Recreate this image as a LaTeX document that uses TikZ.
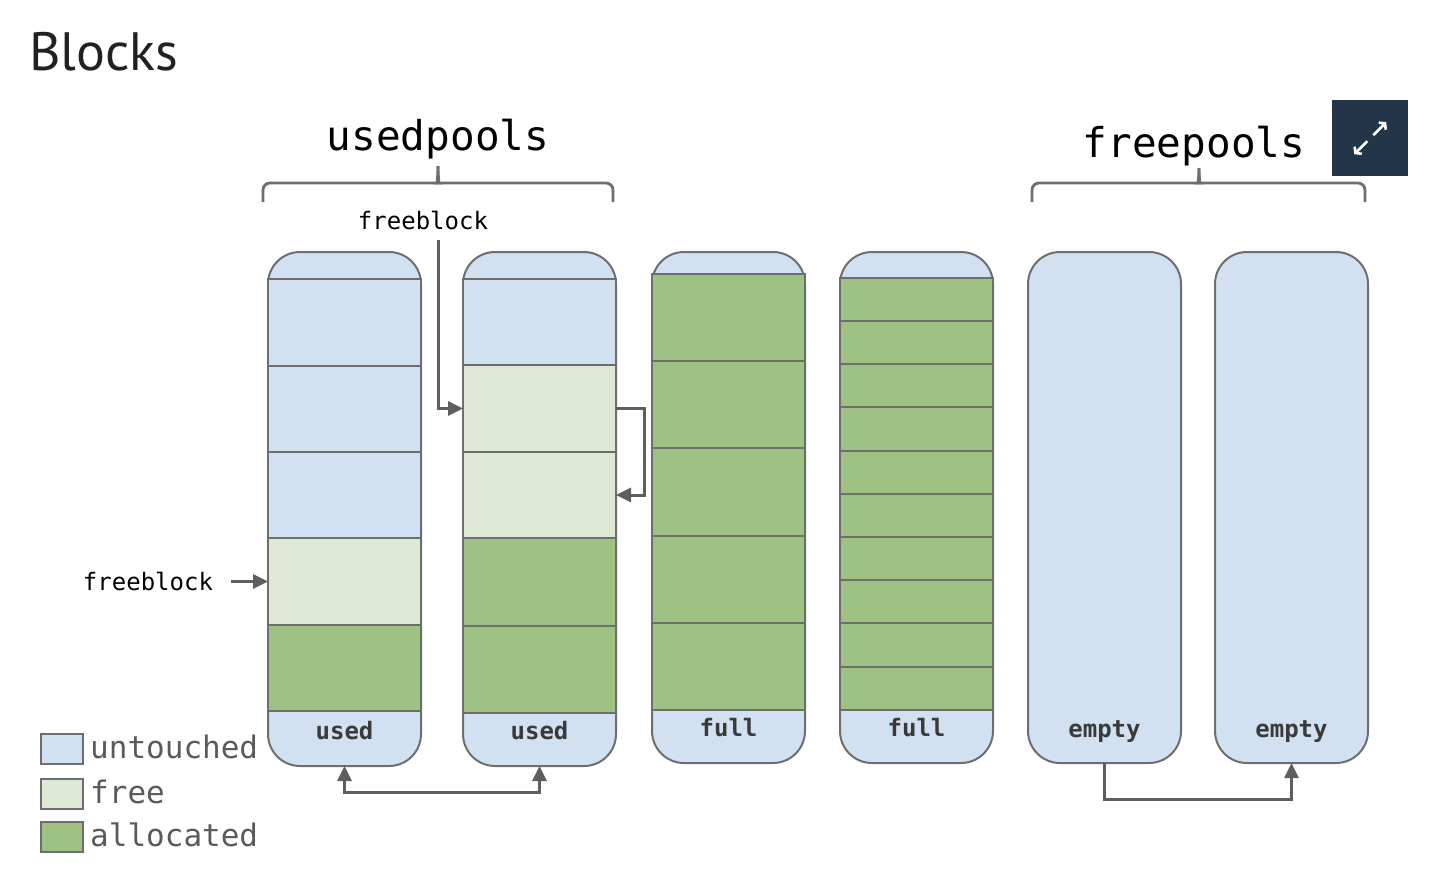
\documentclass[tikz,border=0pt]{standalone}
\usepackage{fontspec}
\setmonofont{DejaVu Sans Mono}
\newfontfamily\titlefont{PT Sans}
\usetikzlibrary{arrows.meta}
\definecolor{untouched}{HTML}{D2E1F1}
\definecolor{freec}{HTML}{DDE8D5}
\definecolor{alloc}{HTML}{9DC284}
\definecolor{edge}{HTML}{6E6E6E}
\definecolor{arrowc}{HTML}{5E5E5E}
\definecolor{labelc}{HTML}{3A3A3A}
\definecolor{legc}{HTML}{5A5A5A}
\definecolor{iconc}{HTML}{223549}
\newcommand\cellnode[5]{\node[cell, fill=#5, minimum height={(#4)-(#3)}] (#1) at ({#2},{#3}) {};}
\begin{document}
\begin{tikzpicture}[x=1pt,y=-1pt,
  pool/.style={draw=edge, line width=2pt, fill=untouched, rounded corners=32pt, minimum width=153pt, inner sep=0pt, outer sep=0pt, anchor=north west},
  cell/.style={draw=edge, line width=2pt, minimum width=153pt, inner sep=0pt, outer sep=0pt, anchor=north west},
  lbl/.style={font=\fontsize{24}{28}\selectfont\ttfamily\bfseries, text=labelc, anchor=base, inner sep=0pt},
  fbl/.style={font=\fontsize{24}{28}\selectfont\ttfamily, text=black, anchor=base, inner sep=0pt},
  head/.style={font=\fontsize{41}{48}\selectfont\ttfamily, text=black, anchor=base, inner sep=0pt},
  legbox/.style={draw=edge, line width=1.8pt, minimum width=42pt, minimum height=30pt, inner sep=0pt, anchor=north west},
  legtxt/.style={font=\fontsize{31}{36}\selectfont\ttfamily, text=legc, anchor=base west, inner sep=0pt},
  brace/.style={draw=edge, line width=2.8pt},
  tip/.tip={Triangle[length=15pt,width=14pt]},
  arr/.style={draw=arrowc, line width=3pt, -tip},
  arrboth/.style={draw=arrowc, line width=3pt, tip-tip}
]
\useasboundingbox (0,0) rectangle (1442,884);

% title
\node[font=\titlefont\fontsize{54}{60}\selectfont, text=black!87, anchor=base west, inner sep=0pt] (title) at (29,70) {Blocks};

% expand icon
\node[fill=iconc, minimum size=76pt, inner sep=0pt, anchor=north west] (icon) at (1332,100) {};
\draw[white, line width=2.6pt, -{Straight Barb[length=4pt,width=10pt]}] ([shift={(3,-3)}]icon.center) -- ([shift={(16,-16)}]icon.center);
\draw[white, line width=2.6pt, -{Straight Barb[length=4pt,width=10pt]}] ([shift={(-3,3)}]icon.center) -- ([shift={(-16,16)}]icon.center);

% headings
\node[head] (usedpools) at (438,150) {usedpools};
\node[head] (freepools) at (1194,157) {freepools};

% braces
\draw[brace] (263,202) [rounded corners=7pt] -- (263,183) -- (431,183) [sharp corners] .. controls (436,183) and (438,181) .. (438,166);
\draw[brace] (613,202) [rounded corners=7pt] -- (613,183) -- (445,183) [sharp corners] .. controls (440,183) and (438,181) .. (438,166);
\draw[brace] (1032,202) [rounded corners=7pt] -- (1032,183) -- (1192,183) [sharp corners] .. controls (1197,183) and (1199,181) .. (1199,168);
\draw[brace] (1365,202) [rounded corners=7pt] -- (1365,183) -- (1206,183) [sharp corners] .. controls (1201,183) and (1199,181) .. (1199,168);

% column 1
\node[pool, minimum height=514pt] (col1) at (268,252) {};
\cellnode{c1a}{268}{279}{366}{untouched}
\cellnode{c1b}{268}{366}{452}{untouched}
\cellnode{c1c}{268}{452}{538}{untouched}
\cellnode{c1d}{268}{538}{625}{freec}
\cellnode{c1e}{268}{625}{711}{alloc}
\node[lbl] (u1) at (344.5,739) {used};

% column 2
\node[pool, minimum height=514pt] (col2) at (463,252) {};
\cellnode{c2a}{463}{279}{365}{untouched}
\cellnode{c2b}{463}{365}{452}{freec}
\cellnode{c2c}{463}{452}{538}{freec}
\cellnode{c2d}{463}{538}{626}{alloc}
\cellnode{c2e}{463}{626}{713}{alloc}
\node[lbl] (u2) at (539.5,739) {used};

% column 3
\node[pool, minimum height=511pt] (col3) at (652,252) {};
\foreach \i in {0,...,4}{\cellnode{c3\i}{652}{274+87.2*\i}{274+87.2*(\i+1)}{alloc}}
\node[lbl] (f3) at (728.5,736) {full};

% column 4
\node[pool, minimum height=511pt] (col4) at (840,252) {};
\foreach \i in {0,...,9}{\cellnode{c4\i}{840}{277.7+43.2*\i}{277.7+43.2*(\i+1)}{alloc}}
\node[lbl] (f4) at (916.5,736) {full};

% column 5, 6
\node[pool, minimum height=511pt] (col5) at (1028,252) {};
\node[lbl] (e5) at (1104.5,737) {empty};
\node[pool, minimum height=511pt] (col6) at (1215,252) {};
\node[lbl] (e6) at (1291.5,737) {empty};

% freeblock labels and arrows
\node[fbl] (fbtop) at (423,229) {freeblock};
\node[fbl] (fbleft) at (148,590) {freeblock};
\coordinate (fbstart) at (438,240);
\path (fbleft.east) ++(18,0) coordinate (fbleftend);
\draw[arr] (fbstart) |- (c2b.west);
\draw[arr] (c2b.east) -- ++(28,0) |- (c2c.east);
\draw[arr] (fbleftend |- c1d.west) -- (c1d.west);

% list arrows
\draw[arrboth] (col1.south) -- ++(0,26) -| (col2.south);
\draw[arr] (col5.south) -- ++(0,36) -| (col6.south);

% legend
\node[legbox, fill=untouched] (lg1) at (40,733) {};
\node[legbox, fill=freec] (lg2) at (40,778) {};
\node[legbox, fill=alloc] (lg3) at (40,821) {};
\node[legtxt] (lt1) at (90,758) {untouched};
\node[legtxt] (lt2) at (90,803) {free};
\node[legtxt] (lt3) at (90,846) {allocated};
\end{tikzpicture}
\end{document}
